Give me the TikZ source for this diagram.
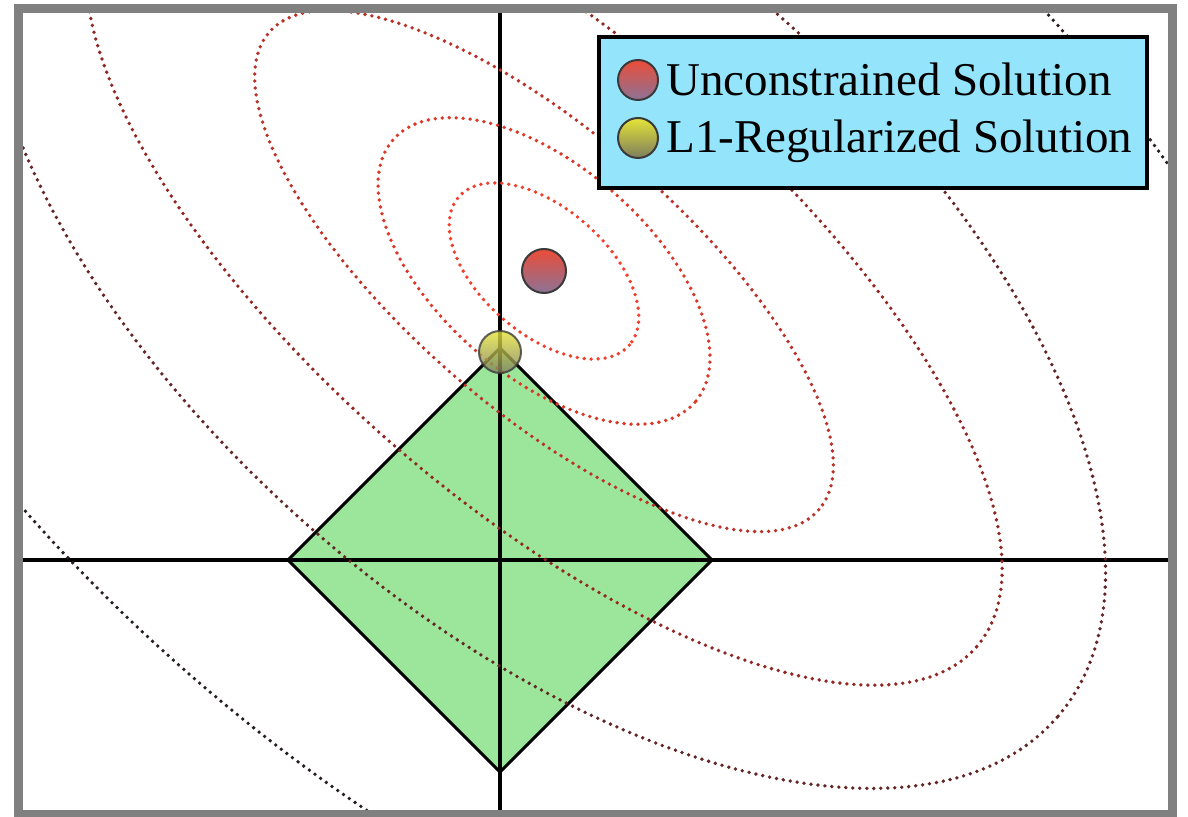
\documentclass[tikz,border=0pt]{standalone}
\usepackage{fontspec}
\setmainfont{Liberation Serif}
\definecolor{framegray}{RGB}{128,128,128}
\definecolor{lgreen}{RGB}{156,230,156}
\definecolor{legendblue}{RGB}{148,228,252}
\definecolor{ringA}{RGB}{245,60,40}
\definecolor{ringB}{RGB}{222,54,38}
\definecolor{ringC}{RGB}{188,48,38}
\definecolor{ringD}{RGB}{146,38,34}
\definecolor{ringE}{RGB}{100,38,36}
\definecolor{ringF}{RGB}{40,30,30}
\definecolor{redtop}{RGB}{235,76,56}
\definecolor{redbot}{RGB}{140,115,150}
\definecolor{yeltop}{RGB}{228,228,55}
\definecolor{yelbot}{RGB}{125,125,95}
\definecolor{dotborder}{RGB}{58,58,58}
\begin{document}
\begin{tikzpicture}[x=0.5pt,y=-0.5pt,
  ring/.style={line width=1.9pt, line cap=round, dash pattern=on 0pt off 3.5pt},
  axisline/.style={line width=1.8pt, black},
  soldot/.style={circle, draw=dotborder, line width=1pt, inner sep=0pt, minimum size=#1},
  legtext/.style={anchor=base west, inner sep=0pt, font=\fontsize{23.5}{28}\selectfont, text=black}
]
\useasboundingbox (0,0) rectangle (1188,817);
\fill[white] (0,0) rectangle (1188,817);
% centre of contours
\coordinate (c) at (544,271);
% diamond
\coordinate (dl) at (288,560);
\coordinate (dr) at (712,560);
\coordinate (dt) at (500,348);
\coordinate (db) at (500,772);
\begin{scope}
\clip (22,13) rectangle (1168,810);
\filldraw[fill=lgreen, draw=black, line width=1.5pt, line join=miter] (dl) -- (dt) -- (dr) -- (db) -- cycle;
% axes
\coordinate (at) at (500,13);
\coordinate (ab) at (500,810);
\coordinate (al) at (22,560);
\coordinate (ar) at (1168,560);
\draw[axisline] (at) -- (ab);
\draw[axisline] (al) -- (ar);
% contours
\draw[ring, ringF, rotate around={-41:(c)}] (c) ellipse [x radius=977, y radius=537];
\draw[ring, ringE, rotate around={-41:(c)}] (c) ellipse [x radius=680, y radius=347];
\draw[ring, ringD, rotate around={-41:(c)}] (c) ellipse [x radius=573, y radius=230];
\draw[ring, ringC, rotate around={-41:(c)}] (c) ellipse [x radius=364, y radius=138];
\draw[ring, ringB, rotate around={-41:(c)}] (c) ellipse [x radius=200, y radius=105];
\draw[ring, ringA, rotate around={-41:(c)}] (c) ellipse [x radius=113, y radius=63];
\end{scope}
% solutions
\node (uns) [soldot=22pt, top color=redtop, bottom color=redbot] at (544,271) {};
\node (l1s) [soldot=21pt, top color=yeltop, bottom color=yelbot, opacity=0.8] at (500,352) {};
% frame
\draw[framegray, line width=4.5pt] (18,9) rectangle (1172,814);
% legend
\node (legend) [draw=black, line width=2pt, fill=legendblue, inner sep=0pt,
  minimum width=274pt, minimum height=75.5pt, anchor=north west] at (597,35) {};
\node (legU) [soldot=20pt, top color=redtop, bottom color=redbot] at (638,80) {};
\node (legL) [soldot=20pt, top color=yeltop, bottom color=yelbot] at (638,138) {};
\node (txtU) [legtext] at (666,96) {Unconstrained Solution};
\node (txtL) [legtext] at (666,153) {L1-Regularized Solution};
\end{tikzpicture}
\end{document}
